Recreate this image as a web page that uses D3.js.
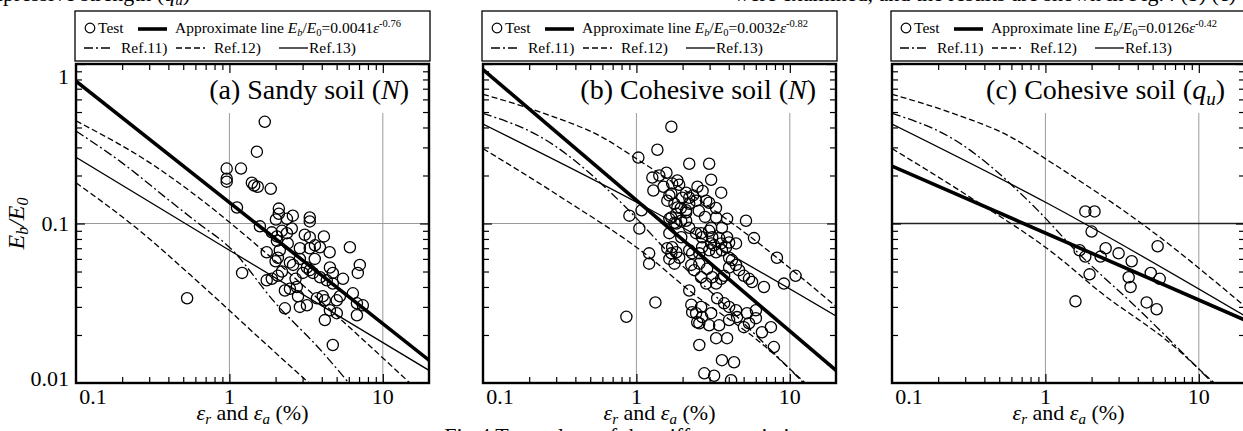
<!DOCTYPE html>
<html>
<head>
<meta charset="utf-8">
<script src="https://cdn.jsdelivr.net/npm/d3@7"></script>
<style>
  body { margin: 0; background: #fff; }
  svg, svg text { font-family: "Liberation Serif", "Times New Roman", serif; }
</style>
</head>
<body>
<svg id="chart" width="1243" height="431"></svg>
<script>
// ---- data (x = strain %, y = Eb/E0) ----
const xDomain = [0.1, 20];
const yDomain = [0.01, 1];
const xTickLabels = [0.1, 1, 10];
const yTickLabels = [1, 0.1, 0.01];
const xMinor = [0.2, 0.3, 0.4, 0.5, 0.6, 0.7, 0.8, 0.9, 2, 3, 4, 5, 6, 7, 8, 9];
const yMinor = [0.02, 0.03, 0.04, 0.05, 0.06, 0.07, 0.08, 0.09, 0.2, 0.3, 0.4, 0.5, 0.6, 0.7, 0.8, 0.9];

const panelTitles = ["(a) Sandy soil (", "(b) Cohesive soil (", "(c) Cohesive soil ("];
const titleVars = ["N", "N", "q"];
const titleSubs = ["", "", "u"];
const approxCoefs = ["0.0041", "0.0032", "0.0126"];
const approxExps = ["-0.76", "-0.82", "-0.42"];
const refLabels = ["Ref.11)", "Ref.12)", "Ref.13)"];

// approximate lines (end values)
const approxA = [[0.1, 0.781], [20, 0.0139]];
const approxB = [[0.1, 0.923], [20, 0.0120]];
const approxC = [[0.1, 0.229], [20, 0.0248]];

// reference curves, sandy soil
const ref11A = [[0.1, 0.38], [0.2, 0.24], [0.4, 0.141], [0.63, 0.1], [1, 0.071], [2, 0.0316], [4, 0.0158], [6.0, 0.01]];
const ref12UpperA = [[0.1, 0.44], [0.316, 0.234], [0.643, 0.143], [1.65, 0.068], [7.08, 0.0195], [15, 0.01]];
const ref12LowerA = [[0.1, 0.18], [0.25, 0.093], [0.643, 0.042], [1.58, 0.019], [3.3, 0.01]];
const ref13A = [[0.1, 0.26], [1, 0.068], [20, 0.012]];

// reference curves, cohesive soil
const ref11C = [[0.1, 0.49], [0.24, 0.347], [0.9, 0.12], [1.5, 0.071], [4.1, 0.0286], [11.7, 0.0105], [12.3, 0.01]];
const ref12UpperC = [[0.1, 0.646], [0.25, 0.49], [0.6, 0.347], [1.045, 0.248], [4.67, 0.0933], [20, 0.0302]];
const ref12LowerC = [[0.1, 0.295], [0.316, 0.148], [1.21, 0.0617], [2.21, 0.038], [6.98, 0.0168], [11.3, 0.011], [12.6, 0.01]];
const ref13C = [[0.1, 0.42], [1.045, 0.133], [20, 0.0263]];

// test points
const pointsA = [
  [1.70,0.434],[1.51,0.282],[0.96,0.221],[1.19,0.221],[0.96,0.183],[0.96,0.191],[1.40,0.180],[1.45,0.173],[1.53,0.170],[1.86,0.165],
  [1.12,0.126],[2.10,0.124],[2.10,0.115],[2.59,0.112],[2.01,0.106],[2.37,0.107],[3.34,0.109],[3.34,0.103],[1.58,0.096],[2.55,0.093],
  [1.89,0.088],[2.20,0.090],[2.37,0.087],[2.04,0.083],[2.04,0.078],[3.34,0.082],[4.13,0.083],[2.88,0.070],[3.61,0.073],[3.89,0.071],
  [6.10,0.071],[1.75,0.066],[2.13,0.068],[2.07,0.061],[3.34,0.070],[2.48,0.057],[2.88,0.060],[1.21,0.049],[3.20,0.053],[3.01,0.049],
  [3.34,0.051],[3.50,0.049],[7.08,0.055],[6.87,0.049],[4.52,0.053],[4.72,0.049],[1.75,0.044],[1.89,0.045],[2.07,0.047],[4.31,0.044],
  [4.72,0.042],[2.30,0.038],[2.75,0.040],[2.48,0.039],[3.72,0.034],[4.06,0.035],[4.19,0.033],[5.25,0.035],[5.01,0.033],[6.38,0.0365],
  [6.78,0.0316],[7.41,0.0307],[2.88,0.030],[3.20,0.0307],[2.30,0.0294],[4.52,0.0286],[5.01,0.0274],[6.78,0.0266],[4.19,0.0248],[4.72,0.0173],
  [0.53,0.034],[2.6,0.055],[3.9,0.046],[2.2,0.050],[3.6,0.060],[2.8,0.035],[5.5,0.045],[2.4,0.075],[3.1,0.085],[4.5,0.066],
  [2.0,0.058],[2.7,0.045]
];
const pointsB = [
  [1.69,0.404],[1.37,0.290],[1.03,0.259],[2.21,0.237],[2.98,0.237],[1.41,0.200],[1.57,0.208],[1.27,0.194],[1.85,0.186],[1.90,0.175],
  [3.07,0.188],[3.57,0.156],[1.29,0.161],[1.64,0.150],[1.59,0.139],[1.77,0.133],[2.11,0.156],[2.21,0.145],[2.34,0.150],[2.45,0.139],
  [2.85,0.139],[2.98,0.135],[1.85,0.126],[2.11,0.121],[0.90,0.112],[1.08,0.121],[3.90,0.107],[3.31,0.109],[3.07,0.094],[3.61,0.094],
  [1.045,0.093],[1.69,0.109],[1.82,0.100],[2.11,0.104],[2.21,0.094],[1.64,0.087],[1.96,0.082],[2.45,0.087],[2.68,0.082],[3.07,0.075],
  [3.46,0.081],[4.02,0.076],[4.46,0.075],[1.71,0.071],[1.69,0.065],[1.82,0.066],[1.21,0.065],[2.21,0.068],[2.57,0.065],[3.61,0.068],
  [4.02,0.061],[1.21,0.056],[0.86,0.026],[1.33,0.032],[1.64,0.060],[1.77,0.056],[2.21,0.038],[2.28,0.031],[2.31,0.0278],[2.49,0.024],
  [2.98,0.023],[2.57,0.0173],[3.31,0.0191],[3.90,0.0191],[3.61,0.0139],[4.33,0.0135],[2.77,0.0115],[3.21,0.0111],[4.14,0.0104],[1.71,0.178],
  [1.69,0.154],[1.99,0.145],[2.21,0.133],[2.11,0.117],[1.82,0.115],[1.64,0.107],[1.77,0.101],[1.96,0.104],[5.18,0.104],[2.64,0.087],
  [2.98,0.090],[3.12,0.082],[3.90,0.082],[3.57,0.075],[3.84,0.071],[5.84,0.081],[1.59,0.070],[1.90,0.061],[2.31,0.065],[2.68,0.071],
  [2.98,0.068],[3.21,0.073],[3.31,0.066],[4.20,0.059],[4.46,0.055],[4.67,0.051],[4.02,0.053],[2.28,0.055],[2.57,0.056],[2.38,0.051],
  [2.64,0.046],[2.89,0.052],[3.12,0.046],[2.85,0.042],[3.31,0.042],[3.57,0.045],[3.73,0.047],[5.02,0.047],[5.42,0.045],[5.67,0.043],
  [6.78,0.040],[8.24,0.061],[10.9,0.047],[9.15,0.042],[2.64,0.030],[2.45,0.0274],[3.07,0.0274],[2.68,0.0259],[3.36,0.034],[3.73,0.0316],
  [4.02,0.030],[4.46,0.0286],[4.53,0.0259],[5.26,0.0274],[6.01,0.0286],[6.01,0.0255],[5.42,0.0237],[5.02,0.0224],[4.02,0.0248],[3.46,0.023],
  [2.57,0.0237],[7.53,0.0224],[6.58,0.0208],[7.87,0.0168],[1.50,0.170],[2.50,0.170],[2.70,0.160],[1.95,0.125],[2.55,0.120],[2.80,0.110],
  [3.30,0.125]
];
const pointsC = [
  [1.82,0.119],[2.09,0.119],[2.00,0.089],[1.67,0.068],[1.82,0.062],[2.47,0.070],[3.00,0.065],[2.29,0.062],[3.65,0.058],[5.39,0.072],
  [4.86,0.049],[5.56,0.045],[3.49,0.046],[3.59,0.040],[1.94,0.048],[1.57,0.0325],[4.57,0.032],[5.31,0.029]
];

// ---- layout ----
const panels = [
  { left: 76,  pts: pointsA, approx: approxA, r11: ref11A, r12u: ref12UpperA, r12l: ref12LowerA, r13: ref13A, grid: "#9a9a9a" },
  { left: 483, pts: pointsB, approx: approxB, r11: ref11C, r12u: ref12UpperC, r12l: ref12LowerC, r13: ref13C, grid: "#9a9a9a" },
  { left: 892, pts: pointsC, approx: approxC, r11: ref11C, r12u: ref12UpperC, r12l: ref12LowerC, r13: ref13C, grid: "#222" }
];
const plotW = 353, plotTop = 64, plotBottom = 383;
const dashDot = "9,3,2,3", dashed = "6,3";
const legendFont = 15.5;

const svg = d3.select("#chart");

// caption lines of the surrounding page, cut by the frame
svg.append("text")
  .attr("x", 190).attr("y", 0.5).attr("text-anchor", "end").attr("font-size", 22)
  .html('compressive strength (<tspan font-style="italic">q</tspan><tspan font-style="italic" font-size="15" dy="4">u</tspan><tspan dy="-4">)</tspan>');
svg.append("text")
  .attr("x", 1236).attr("y", 0.5).attr("text-anchor", "end").attr("font-size", 22)
  .text("were examined, and the results are shown in Fig.4 (b) (c)");

panels.forEach((p, i) => {
  const x = d3.scaleLog().domain(xDomain).range([p.left, p.left + plotW]);
  const y = d3.scaleLog().domain(yDomain).range([plotBottom, plotTop]);
  const g = svg.append("g");

  const clipId = "clip" + i;
  g.append("clipPath").attr("id", clipId).append("rect")
    .attr("x", x(xDomain[0])).attr("y", y(yDomain[1]))
    .attr("width", x(xDomain[1]) - x(xDomain[0])).attr("height", y(yDomain[0]) - y(yDomain[1]));

  // grid
  g.selectAll(".vgrid").data([1, 10]).join("line")
    .attr("x1", d => x(d)).attr("x2", d => x(d))
    .attr("y1", plotTop + 49).attr("y2", plotBottom)
    .attr("stroke", "#9a9a9a").attr("stroke-width", 1);
  g.append("line")
    .attr("x1", x(xDomain[0])).attr("x2", x(xDomain[1]))
    .attr("y1", y(0.1)).attr("y2", y(0.1))
    .attr("stroke", p.grid).attr("stroke-width", i === 2 ? 1.3 : 1);

  // ticks (all inward)
  const tick = (axis, vals, size, tr) => {
    g.append("g").attr("transform", tr)
      .call(axis.tickValues(vals).tickSize(size).tickFormat(""))
      .call(s => s.select(".domain").remove())
      .selectAll("line").attr("stroke", "#000").attr("stroke-width", 1.2);
  };
  tick(d3.axisLeft(y), yMinor, -6, `translate(${x(xDomain[0])},0)`);
  tick(d3.axisLeft(y), [0.1, 1], -9, `translate(${x(xDomain[0])},0)`);
  tick(d3.axisRight(y), yMinor, -6, `translate(${x(xDomain[1])},0)`);
  tick(d3.axisRight(y), [0.1, 1], -9, `translate(${x(xDomain[1])},0)`);
  tick(d3.axisTop(x), xMinor, -6, `translate(0,${plotTop})`);
  tick(d3.axisTop(x), [1, 10], -9, `translate(0,${plotTop})`);
  tick(d3.axisBottom(x), xMinor, -6, `translate(0,${plotBottom})`);
  tick(d3.axisBottom(x), [1, 10], -9, `translate(0,${plotBottom})`);

  // curves
  const line = d3.line().x(d => x(d[0])).y(d => y(d[1])).curve(d3.curveMonotoneX);
  const lines = g.append("g").attr("clip-path", `url(#${clipId})`).attr("fill", "none").attr("stroke", "#000");
  lines.append("path").attr("d", line(p.r12u)).attr("stroke-width", 1.3).attr("stroke-dasharray", dashed);
  lines.append("path").attr("d", line(p.r12l)).attr("stroke-width", 1.3).attr("stroke-dasharray", dashed);
  lines.append("path").attr("d", line(p.r11)).attr("stroke-width", 1.3).attr("stroke-dasharray", dashDot);
  lines.append("path").attr("d", line(p.r13)).attr("stroke-width", 1.3);
  lines.append("path").attr("d", line(p.approx)).attr("stroke-width", 3.6);

  // test points
  g.append("g").attr("clip-path", `url(#${clipId})`)
    .selectAll("circle").data(p.pts).join("circle")
    .attr("cx", d => x(d[0])).attr("cy", d => y(d[1])).attr("r", 5.6)
    .attr("fill", "none").attr("stroke", "#000").attr("stroke-width", 1.3);

  // frame
  g.append("rect")
    .attr("x", x(xDomain[0])).attr("y", y(yDomain[1]))
    .attr("width", x(xDomain[1]) - x(xDomain[0])).attr("height", y(yDomain[0]) - y(yDomain[1]))
    .attr("fill", "none").attr("stroke", "#000").attr("stroke-width", 2.4);

  // title
  const t = g.append("text")
    .attr("x", x(xDomain[1]) - 20).attr("y", plotTop + 35)
    .attr("text-anchor", "end").attr("font-size", 28);
  t.append("tspan").text(panelTitles[i]);
  t.append("tspan").attr("font-style", "italic").text(titleVars[i]);
  if (titleSubs[i]) {
    t.append("tspan").attr("font-style", "italic").attr("font-size", 19).attr("dy", 6).text(titleSubs[i]);
    t.append("tspan").attr("dy", -6).text(")");
  } else {
    t.append("tspan").text(")");
  }

  // x tick labels + label
  g.selectAll(".xl").data(xTickLabels).join("text")
    .attr("x", d => x(d) + (d === xDomain[0] ? 17 : 0)).attr("y", 404)
    .attr("text-anchor", "middle").attr("font-size", 22).text(d => d);
  g.append("text")
    .attr("x", (x(xDomain[0]) + x(xDomain[1])) / 2).attr("y", 420)
    .attr("text-anchor", "middle").attr("font-size", 22)
    .html('<tspan font-style="italic">ε</tspan><tspan font-style="italic" font-size="15" dy="4">r</tspan>' +
          '<tspan dy="-4"> and </tspan><tspan font-style="italic">ε</tspan>' +
          '<tspan font-style="italic" font-size="15" dy="4">a</tspan><tspan dy="-4"> (%)</tspan>');

  if (i === 0) {
    const yOff = [20, 7.5, 2.5];
    g.selectAll(".yl").data(yTickLabels).join("text")
      .attr("x", x(xDomain[0]) - 7).attr("y", (d, k) => y(d) + yOff[k])
      .attr("text-anchor", "end").attr("font-size", 22).text(d => d);
    g.append("text")
      .attr("transform", `translate(24,${(plotTop + plotBottom) / 2}) rotate(-90)`)
      .attr("text-anchor", "middle").attr("font-size", 24).attr("font-style", "italic")
      .html('E<tspan font-size="16" dy="4">b</tspan><tspan dy="-4">/E</tspan><tspan font-size="16" dy="4">0</tspan>');
  }

  // legend
  const lx = p.left - 1, ly = 11;
  const lg = g.append("g");
  lg.append("rect").attr("x", lx).attr("y", ly).attr("width", plotW + 2).attr("height", 50)
    .attr("fill", "#fff").attr("stroke", "#000").attr("stroke-width", 1.3);
  lg.append("circle").attr("cx", lx + 15).attr("cy", ly + 17).attr("r", 4.8)
    .attr("fill", "none").attr("stroke", "#000").attr("stroke-width", 1.2);
  lg.append("text").attr("x", lx + 23).attr("y", ly + 22).attr("font-size", legendFont).text("Test");
  lg.append("line").attr("x1", lx + 63).attr("x2", lx + 92).attr("y1", ly + 18).attr("y2", ly + 18)
    .attr("stroke", "#000").attr("stroke-width", 3.6);
  lg.append("text").attr("x", lx + 100).attr("y", ly + 22).attr("font-size", legendFont)
    .html('Approximate line <tspan font-style="italic">E</tspan><tspan font-style="italic" font-size="10.5" dy="3">b</tspan>' +
          '<tspan dy="-3">/</tspan><tspan font-style="italic">E</tspan><tspan font-size="10.5" dy="3">0</tspan>' +
          `<tspan dy="-3">=${approxCoefs[i]}</tspan><tspan font-style="italic">ε</tspan>` +
          `<tspan font-size="10.5" dy="-6">${approxExps[i]}</tspan>`);
  const symX = [9, 101, 204], txtX = [46, 139, 234], dashes = [dashDot, dashed, null];
  refLabels.forEach((lab, k) => {
    lg.append("line").attr("x1", lx + symX[k]).attr("x2", lx + symX[k] + 29)
      .attr("y1", ly + 37).attr("y2", ly + 37)
      .attr("stroke", "#000").attr("stroke-width", 1.3).attr("stroke-dasharray", dashes[k]);
    lg.append("text").attr("x", lx + txtX[k]).attr("y", ly + 42).attr("font-size", legendFont).text(lab);
  });
});

svg.append("text")
  .attr("x", 628).attr("y", 443).attr("text-anchor", "middle").attr("font-size", 22)
  .text("Fig.4 Test values of the stiffness variation");
</script>
</body>
</html>
